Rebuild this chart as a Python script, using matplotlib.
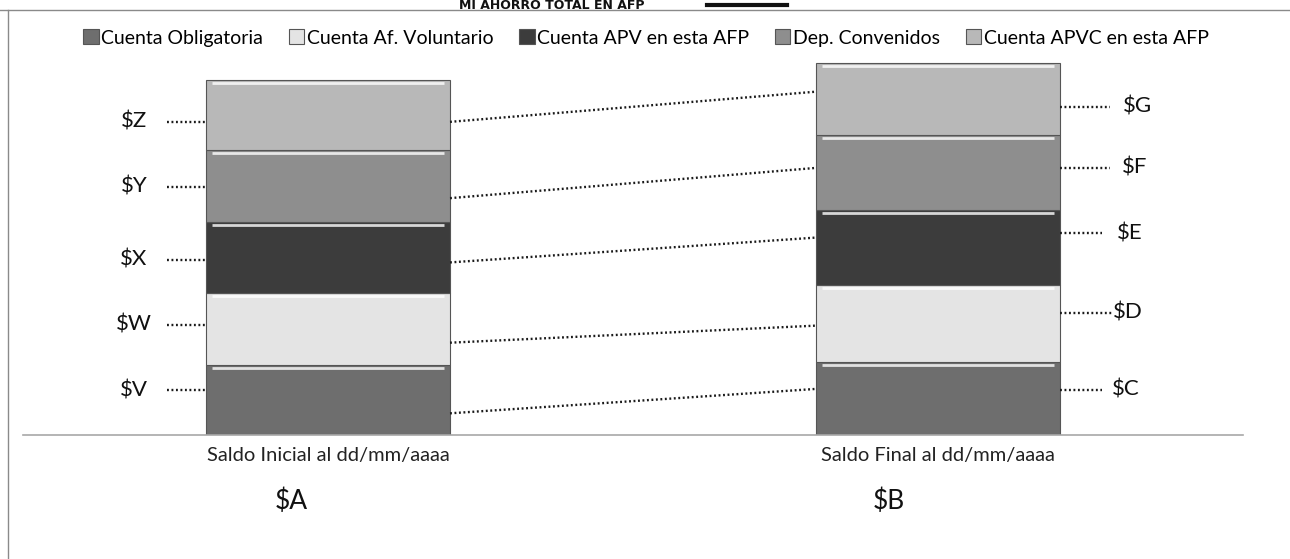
import matplotlib.pyplot as plt
from matplotlib.lines import Line2D
import numpy as np

plt.rcParams['font.family'] = ['Lato', 'DejaVu Sans']

# data (arbitrary units, bars drawn to scale)
series = ['Cuenta Obligatoria', 'Cuenta Af. Voluntario', 'Cuenta APV en esta AFP',
          'Dep. Convenidos', 'Cuenta APVC en esta AFP']
periods = ['Saldo Inicial al dd/mm/aaaa', 'Saldo Final al dd/mm/aaaa']
totals = ['$A', '$B']
saldo_inicial = [19.7, 20.3, 20.0, 20.3, 19.7]
saldo_final = [20.6, 21.7, 21.1, 21.1, 20.3]
labels_inicial = ['$V', '$W', '$X', '$Y', '$Z']
labels_final = ['$C', '$D', '$E', '$F', '$G']

colors = ['#6e6e6e', '#e4e4e4', '#3c3c3c', '#8e8e8e', '#b8b8b8']

# where the hand drawn leaders sit inside each segment (fraction of segment)
frac_lbl_ini = [0.64, 0.56, 0.47, 0.49, 0.40]
frac_con_ini = [0.31, 0.31, 0.43, 0.33, 0.40]
frac_lbl_fin = [0.62, 0.64, 0.69, 0.56, 0.39]
frac_con_fin = [0.63, 0.47, 0.63, 0.56, 0.60]
x_lbl_fin = [1.285, 1.287, 1.293, 1.302, 1.303]
x_lead_fin = [1.269, 1.285, 1.269, 1.282, 1.282]

fig = plt.figure(figsize=(12.9, 5.59), dpi=100)
ax = fig.add_axes([23/1290, 124/559, 1220/1290, 375/559])

x = np.arange(len(periods))
width = 0.4
values = np.array([saldo_inicial, saldo_final])
bottoms = np.zeros(len(periods))
for i, name in enumerate(series):
    ax.bar(x, values[:, i], width, bottom=bottoms, color=colors[i],
           edgecolor='#555555', linewidth=0.8, label=name, zorder=2)
    # bevel highlight at top of each segment
    top = bottoms + values[:, i]
    for j in range(len(periods)):
        ax.plot([x[j] - width/2 + 0.01, x[j] + width/2 - 0.01], [top[j] - 0.9, top[j] - 0.9],
                color='white', lw=2, alpha=0.8, zorder=3, solid_capstyle='butt')
    bottoms = top

dot = dict(color='#1a1a1a', lw=1.7, linestyle=(0, (0.8, 1.1)), zorder=4)

cum_ini = np.concatenate([[0], np.cumsum(saldo_inicial)])
cum_fin = np.concatenate([[0], np.cumsum(saldo_final)])
for i in range(len(series)):
    yl = cum_ini[i] + frac_lbl_ini[i] * saldo_inicial[i]
    ax.plot([-0.264, -width/2], [yl, yl], **dot)
    ax.text(-0.318, yl, labels_inicial[i], ha='center', va='center', fontsize=16, color='#111111')

    yr = cum_fin[i] + frac_lbl_fin[i] * saldo_final[i]
    ax.plot([1 + width/2, x_lead_fin[i]], [yr, yr], **dot)
    ax.text(x_lbl_fin[i], yr, labels_final[i], ha='left', va='center', fontsize=16, color='#111111')

    y0 = cum_ini[i] + frac_con_ini[i] * saldo_inicial[i]
    y1 = cum_fin[i] + frac_con_fin[i] * saldo_final[i]
    ax.plot([width/2, 1 - width/2], [y0, y1], **dot)

tot_dx = [-0.06, -0.08]
for j in range(len(periods)):
    ax.text(x[j] + tot_dx[j], -18.6, totals[j], ha='center', va='center',
            fontsize=19, color='#111111', clip_on=False)

ax.set_xlim(-0.5, 1.5)
ax.set_ylim(0, 105.6)
ax.set_xticks(x, periods, fontsize=14.5, color='#222222')
ax.tick_params(axis='x', length=0, pad=9)
ax.set_yticks([])
for s in ['top', 'right', 'left']:
    ax.spines[s].set_visible(False)
ax.spines['bottom'].set_color('#a8a8a8')
ax.spines['bottom'].set_linewidth(1.2)

fig.legend(loc='center', bbox_to_anchor=(646/1290, 1 - 38/559), ncol=5, frameon=False,
           fontsize=14, handlelength=0.8, handleheight=0.8, handletextpad=0.15,
           columnspacing=1.3, borderaxespad=0)

# title of the scanned page (only a sliver shows above the frame)
fig.text(0.4275, 1 - 9/559, 'MI AHORRO TOTAL EN AFP', ha='center', va='baseline',
         fontsize=9, fontweight='bold', color='#111111', family='DejaVu Sans')
fig.add_artist(Line2D([707/1290, 787/1290], [1 - 5/559, 1 - 5/559], color='#111111', lw=3))
fig.add_artist(Line2D([0, 1], [1 - 10/559, 1 - 10/559], color='#8a8a8a', lw=1))
fig.add_artist(Line2D([8/1290, 8/1290], [0, 1 - 10/559], color='#8a8a8a', lw=1))

fig.savefig('out.png', dpi=100)
